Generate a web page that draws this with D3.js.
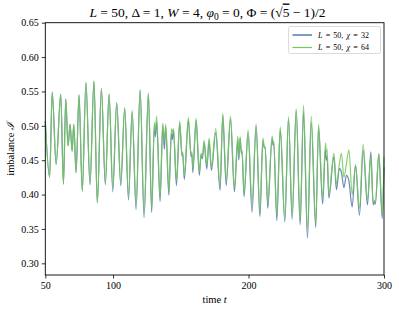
<!DOCTYPE html>
<html><head><meta charset="utf-8">
<script src="https://cdn.jsdelivr.net/npm/d3@7"></script>
<style>
body{margin:0;background:#fff;}
text{font-family:"Liberation Serif","DejaVu Serif",serif;fill:#000;}
</style></head>
<body><svg id="chart" width="399" height="311"></svg>
<script>
// ---- data ----
const times = [50.0,53.2,55.1,58.0,61.4,63.4,65.1,66.8,68.3,69.8,71.0,72.7,74.9,77.3,80.0,83.0,85.9,88.4,91.4,94.3,97.1,99.8,102.7,105.7,108.6,111.4,114.1,117.0,120.0,122.9,126.1,128.5,130.5,131.3,132.2,134.7,136.7,137.9,138.9,141.2,143.1,143.8,144.6,146.8,149.2,150.9,151.4,152.6,155.6,157.6,158.2,158.9,161.3,163.7,165.0,166.0,167.2,169.2,170.9,172.6,175.8,179.0,181.0,183.5,186.7,189.6,192.1,192.8,193.8,194.7,195.2,196.7,199.7,202.6,205.6,208.4,210.6,211.7,212.3,214.2,217.4,218.1,218.6,220.9,223.4,226.8,229.5,232.2,235.2,238.1,240.6,243.5,246.3,249.6,251.7,254.7,256.8,257.5,258.0,259.3,263.0,264.9,267.1,268.6,270.4,272.3,274.1,276.5,279.0,281.9,284.6,287.8,290.3,292.0,293.0,293.6,296.2,298.7,300.0];
const chi64 = [0.507,0.425,0.549,0.444,0.546,0.415,0.539,0.471,0.502,0.463,0.502,0.432,0.545,0.405,0.563,0.416,0.565,0.388,0.554,0.418,0.546,0.410,0.534,0.418,0.527,0.398,0.523,0.384,0.553,0.374,0.548,0.380,0.505,0.492,0.514,0.396,0.504,0.478,0.502,0.405,0.496,0.490,0.496,0.420,0.507,0.458,0.462,0.428,0.512,0.458,0.462,0.438,0.511,0.433,0.460,0.455,0.479,0.443,0.482,0.440,0.496,0.413,0.518,0.420,0.514,0.410,0.485,0.456,0.484,0.462,0.465,0.402,0.494,0.388,0.503,0.375,0.482,0.468,0.469,0.387,0.485,0.475,0.478,0.370,0.499,0.366,0.513,0.370,0.525,0.362,0.530,0.350,0.514,0.358,0.502,0.395,0.475,0.462,0.466,0.400,0.460,0.415,0.445,0.460,0.425,0.445,0.465,0.400,0.443,0.380,0.473,0.392,0.455,0.388,0.392,0.388,0.460,0.370,0.455];
const chi32 = [0.507,0.425,0.549,0.444,0.546,0.415,0.539,0.471,0.502,0.463,0.502,0.432,0.545,0.405,0.563,0.414,0.565,0.388,0.554,0.414,0.546,0.404,0.533,0.413,0.525,0.392,0.520,0.378,0.552,0.366,0.546,0.374,0.500,0.484,0.506,0.390,0.500,0.466,0.498,0.399,0.489,0.480,0.494,0.413,0.504,0.456,0.460,0.422,0.508,0.455,0.459,0.432,0.508,0.428,0.458,0.452,0.476,0.437,0.478,0.435,0.490,0.406,0.515,0.413,0.510,0.404,0.480,0.450,0.482,0.460,0.463,0.397,0.490,0.374,0.500,0.368,0.478,0.468,0.469,0.380,0.482,0.472,0.476,0.362,0.494,0.360,0.510,0.364,0.522,0.356,0.520,0.337,0.505,0.352,0.497,0.386,0.465,0.450,0.455,0.395,0.455,0.407,0.438,0.432,0.410,0.428,0.420,0.382,0.443,0.370,0.465,0.385,0.462,0.385,0.390,0.386,0.458,0.365,0.440];
const xTicks = [50,100,200,300];
const yTicks = [0.30,0.35,0.40,0.45,0.50,0.55,0.60,0.65];
const seriesNames = ["χ = 32","χ = 64"];
const seriesColors = ["#2b5797","#74c85a"];

// ---- layout ----
const svg = d3.select("#chart");
const L = 45.3, R = 384, T = 22.7, B = 275;
const x = d3.scaleLinear().domain([50,300]).range([L,R]);
const y = d3.scaleLinear().domain([0.283,0.65]).range([B,T]);

const line = (vals)=> d3.line().x((d,i)=>x(times[i])).y((d,i)=>y(vals[i])).curve(d3.curveMonotoneX)(vals);

const g = svg.append("g");
g.append("path").attr("d", line(chi32)).attr("fill","none").attr("stroke",seriesColors[0]).attr("stroke-width",1.2).attr("opacity",0.7);
g.append("path").attr("d", line(chi64)).attr("fill","none").attr("stroke",seriesColors[1]).attr("stroke-width",1.2).attr("opacity",0.85);

// frame
svg.append("rect").attr("x",L).attr("y",T).attr("width",R-L).attr("height",B-T).attr("fill","none").attr("stroke","#000").attr("stroke-width",0.9);

const xa = svg.append("g").attr("transform",`translate(0,${B})`)
  .call(d3.axisBottom(x).tickValues(xTicks).tickSize(3.5).tickPadding(3).tickFormat(d3.format("d")));
const ya = svg.append("g").attr("transform",`translate(${L},0)`)
  .call(d3.axisLeft(y).tickValues(yTicks).tickSize(3.5).tickPadding(3).tickFormat(d3.format(".2f")));
[xa,ya].forEach(a=>{
  a.select(".domain").remove();
  a.selectAll(".tick line").attr("stroke","#000").attr("stroke-width",0.8);
  a.selectAll(".tick text").attr("font-family","Liberation Serif").attr("font-size",10).attr("fill","#000");
});

// title
const title = svg.append("text").attr("x",207.5).attr("y",16.5).attr("text-anchor","middle").attr("font-size",13.5);
title.append("tspan").attr("font-style","italic").text("L");
title.append("tspan").text(" = 50, Δ = 1, ");
title.append("tspan").attr("font-style","italic").text("W");
title.append("tspan").text(" = 4, ");
title.append("tspan").attr("font-style","italic").text("φ");
title.append("tspan").attr("font-size",9.5).attr("dy",3).text("0");
title.append("tspan").attr("dy",-3).text(" = 0, Φ = (√");
title.append("tspan").attr("text-decoration","overline").text("5");
title.append("tspan").text(" − 1)/2");

// axis labels
const xl = svg.append("text").attr("x",(L+R)/2).attr("y",303).attr("text-anchor","middle").attr("font-size",10.5);
xl.append("tspan").text("time ");
xl.append("tspan").attr("font-style","italic").text("t");
const yl = svg.append("text").attr("transform",`translate(14,${(T+B)/2}) rotate(-90)`).attr("text-anchor","middle").attr("font-size",10.5);
yl.append("tspan").text("imbalance ");
yl.append("tspan").attr("font-style","italic").text("ℐ");

// legend
const lg = svg.append("g");
lg.append("rect").attr("x",288.5).attr("y",26.5).attr("width",92).attr("height",27).attr("rx",2)
  .attr("fill","#fff").attr("fill-opacity",0.8).attr("stroke","#d0d0d0").attr("stroke-width",0.8);
seriesNames.forEach((n,i)=>{
  const yy = 35 + i*12.5;
  lg.append("line").attr("x1",292.5).attr("x2",312).attr("y1",yy).attr("y2",yy).attr("stroke",seriesColors[i]).attr("stroke-width",1.2);
  const t = lg.append("text").attr("x",318).attr("y",yy+2.8).attr("font-size",8).attr("word-spacing",1.2);
  t.append("tspan").attr("font-style","italic").text("L");
  t.append("tspan").text(" = 50, ");
  t.append("tspan").attr("font-style","italic").text(n.slice(0,1));
  t.append("tspan").text(n.slice(1));
});
</script></body></html>
